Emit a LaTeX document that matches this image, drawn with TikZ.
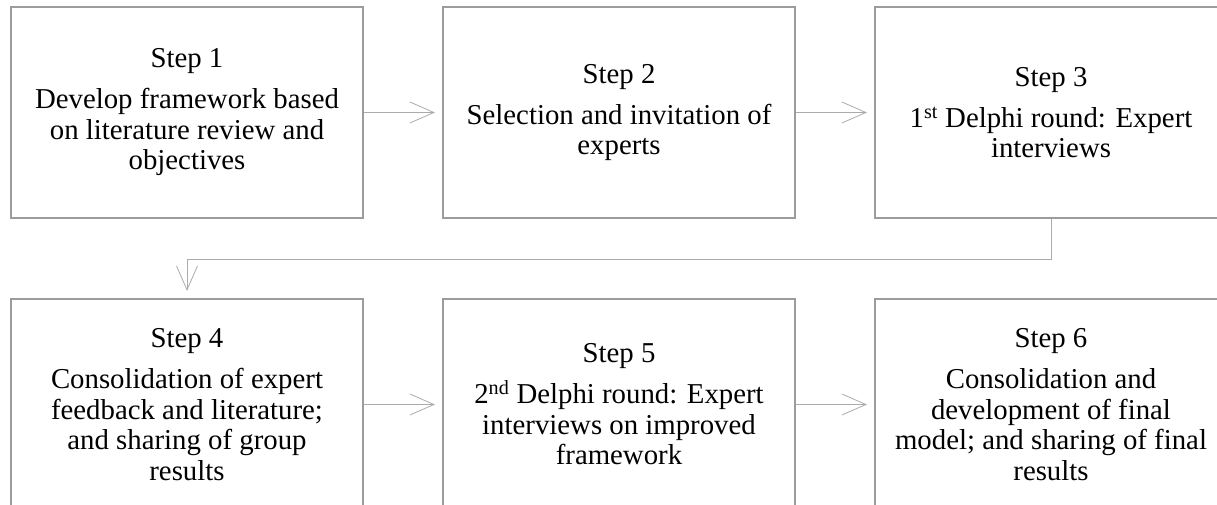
\documentclass[tikz,border=0pt]{standalone}
\usepackage{fontspec}
\setmainfont{Liberation Serif}
\usetikzlibrary{arrows.meta}
\definecolor{boxgray}{HTML}{9C9C9C}
\definecolor{linkgray}{HTML}{ABABAB}
\tikzset{
  x=1pt, y=1pt,
  stepbox/.style={draw=boxgray, line width=2.2pt, minimum width=352pt, minimum height=211pt,
    inner sep=0pt, align=center, text=black,
    font=\fontsize{28.8pt}{30.5pt}\selectfont},
  link/.style={draw=linkgray, line width=1pt, shorten >=7pt,
    -{Straight Barb[length=24pt,width=21pt,line width=0.8pt]}},
}
\newcommand{\steptitle}[1]{Step #1\\[10.5pt]}
\begin{document}
\begin{tikzpicture}
\useasboundingbox (0,0) rectangle (1217,-505);
\node[stepbox] (s1) at (187,-112.5) {\steptitle{1}Develop framework based\\on literature review and\\objectives};
\node[stepbox] (s2) at (619,-112.5) {\steptitle{2}Selection and invitation of\\experts};
\node[stepbox] (s3) at (1051,-112.5) {\steptitle{3}1\textsuperscript{st} Delphi round: Expert\\interviews};
\node[stepbox] (s4) at (187,-404.5) {\steptitle{4}Consolidation of expert\\feedback and literature;\\and sharing of group\\results};
\node[stepbox] (s5) at (619,-404.5) {\steptitle{5}2\textsuperscript{nd} Delphi round: Expert\\interviews on improved\\framework};
\node[stepbox] (s6) at (1051,-404.5) {\steptitle{6}Consolidation and\\development of final\\model; and sharing of final\\results};
\draw[link] (s1.east) -- (s2.west);
\draw[link] (s2.east) -- (s3.west);
\draw[link] (s3.south) -- ++(0,-40) -| (s4.north);
\draw[link] (s4.east) -- (s5.west);
\draw[link] (s5.east) -- (s6.west);
\end{tikzpicture}
\end{document}
